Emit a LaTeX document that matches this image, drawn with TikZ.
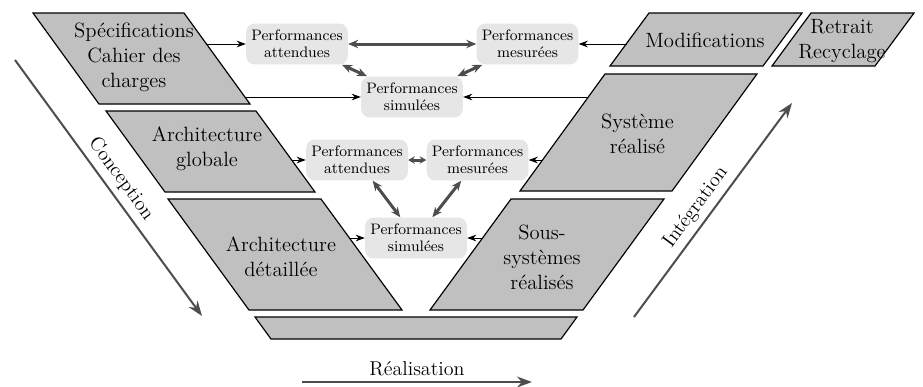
\documentclass[tikz,border=0pt]{standalone}
\usetikzlibrary{arrows.meta}
\definecolor{blockfill}{HTML}{C0C0C0}
\definecolor{perffill}{HTML}{E6E6E6}
\definecolor{flowgray}{HTML}{4D4D4D}

\begin{document}
\begin{tikzpicture}[x=0.6pt,y=-0.6pt,
  block/.style={draw=black, fill=blockfill, line width=0.7pt, line join=miter},
  blocktext/.style={align=center, font=\fontsize{12.4}{15}\selectfont, inner sep=0pt},
  perf/.style={fill=perffill, rounded corners=5pt, align=center, minimum width=61pt,
    minimum height=24.5pt, inner sep=1pt, font=\fontsize{9.1}{10.2}\selectfont},
  feed/.style={-{Stealth[length=5.5pt,width=4pt]}, line width=0.6pt},
  link/.style={{Stealth[length=6pt,width=5pt]}-{Stealth[length=6pt,width=5pt]},
    line width=1.8pt, draw=flowgray},
  shortlink/.style={{Stealth[length=4pt,width=4.5pt]}-{Stealth[length=4pt,width=4.5pt]},
    line width=1.8pt, draw=flowgray},
  phase/.style={-{Stealth[length=9pt,width=6.5pt]}, line width=1.2pt, draw=flowgray},
  phaselabel/.style={font=\fontsize{12}{14}\selectfont, text=black}
]
\useasboundingbox (0,0) rectangle (923,386);

% ---- V-cycle blocks (parallelograms) ----
\draw[block] (33,13) -- (184,13) -- (250,104) -- (99,104) -- cycle;
\draw[block] (106,111) -- (256,111) -- (315,192) -- (165,192) -- cycle;
\draw[block] (168,199) -- (321,199) -- (402,310) -- (249,310) -- cycle;
\draw[block] (255,317) -- (577,317) -- (561,339) -- (271,339) -- cycle;
\draw[block] (511,199) -- (664,199) -- (583,310) -- (430,310) -- cycle;
\draw[block] (605,74) -- (757,74) -- (672,191) -- (520,191) -- cycle;
\draw[block] (649,13) -- (802,13) -- (763,66) -- (610,66) -- cycle;
\draw[block] (811,13) -- (914,13) -- (875,66) -- (772,66) -- cycle;

\node[blocktext] (spec) at (134,57) {Spécifications\\Cahier des\\charges};
\node[blocktext] (glob) at (207,149) {Architecture\\globale};
\node[blocktext] (det)  at (281,257) {Architecture\\détaillée};
\node[blocktext] (sous) at (542,257) {Sous-\\systèmes\\réalisés};
\node[blocktext] (sys)  at (637.5,134) {Système\\réalisé};
\node[blocktext] (mod)  at (705,40) {Modifications};
\node[blocktext] (ret)  at (842,41) {Retrait\\Recyclage};

% ---- performance boxes ----
\node[perf] (A1) at (297,44)    {Performances\\attendues};
\node[perf] (M1) at (527.5,44)  {Performances\\mesurées};
\node[perf] (S1) at (412,97)    {Performances\\simulées};
\node[perf] (A2) at (357,160)   {Performances\\attendues};
\node[perf] (M2) at (477.5,160) {Performances\\mesurées};
\node[perf] (S2) at (416,238)   {Performances\\simulées};

% ---- points on block edges where the feeds start ----
\coordinate (spec-e1) at (206,44);
\coordinate (spec-e2) at (245,97);
\coordinate (mod-e)   at (627,44);
\coordinate (sys-e1)  at (588,97);
\coordinate (glob-e)  at (292,160);
\coordinate (sys-e2)  at (542,160);
\coordinate (det-e)   at (349.5,238);
\coordinate (sous-e)  at (482.5,238);

\draw[feed] (spec-e1) -- (A1.west);
\draw[feed] (spec-e2) -- (S1.west);
\draw[feed] (mod-e)   -- (M1.east);
\draw[feed] (sys-e1)  -- (S1.east);
\draw[feed] (glob-e)  -- (A2.west);
\draw[feed] (sys-e2)  -- (M2.east);
\draw[feed] (det-e)   -- (S2.west);
\draw[feed] (sous-e)  -- (S2.east);

% ---- comparisons between performances ----
\draw[link] (A1) -- (M1);
\draw[link] (A1) -- (S1);
\draw[link] (M1) -- (S1);
\draw[shortlink] (A2) -- (M2);
\draw[link] (A2) -- (S2);
\draw[link] (M2) -- (S2);

% ---- phase arrows ----
\coordinate (conc-a) at (15,60);
\coordinate (conc-b) at (202,316);
\coordinate (integ-a) at (634,317);
\coordinate (integ-b) at (792,103);
\coordinate (real-a) at (302,382);
\coordinate (real-b) at (532,382);

\draw[phase] (conc-a) -- (conc-b)
  node[midway, sloped, above, phaselabel] (conc-lab) {Conception};
\draw[phase] (integ-a) -- (integ-b)
  node[pos=0.47, sloped, above, phaselabel] (integ-lab) {Intégration};
\draw[phase] (real-a) -- (real-b)
  node[midway, above, phaselabel] (real-lab) {Réalisation};
\end{tikzpicture}
\end{document}
